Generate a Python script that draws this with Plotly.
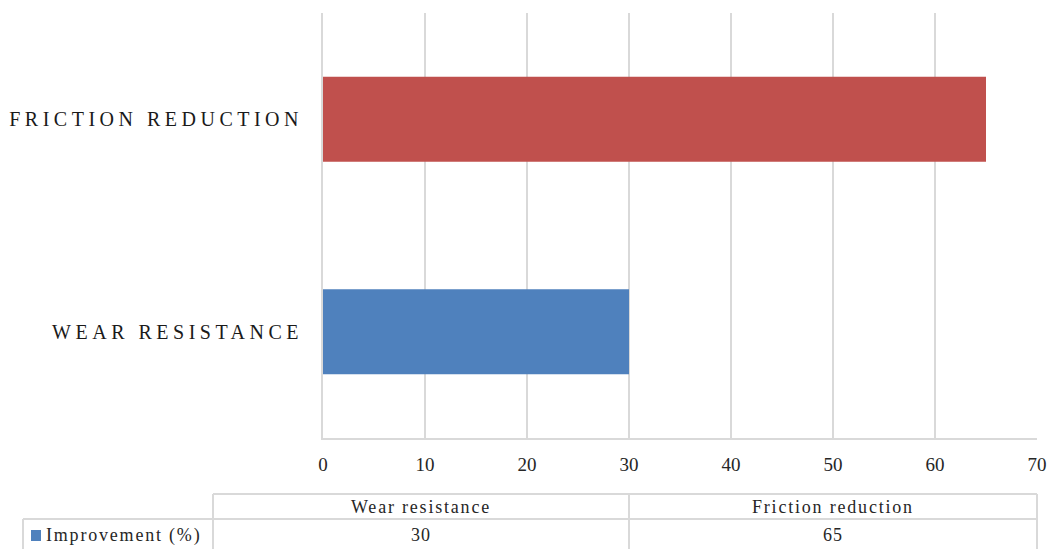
import plotly.graph_objects as go

categories = ["Wear resistance", "Friction reduction"]
values = [30, 65]
bar_colors = ["#4F81BD", "#C0504D"]
series_name = "Improvement (%)"
x_ticks = [0, 10, 20, 30, 40, 50, 60, 70]

W, H = 1049, 549
L, R, T, B = 323, 1037, 13, 438
GRID = "#D9D9D9"
FONT = "Liberation Serif"
TXT = "#262626"


def px(x):
    return (x - L) / (R - L)


def py(y):
    return (B - y) / (B - T)


def spaced(s, sp):
    return '<span style="letter-spacing:%spx">%s</span>' % (sp, s)


fig = go.Figure()
fig.add_trace(go.Bar(
    y=categories, x=values, orientation="h",
    marker=dict(color=bar_colors, line=dict(width=0)),
    width=0.4, name=series_name, showlegend=False,
))

ticktext = [spaced(c.upper(), 4.5) for c in categories]

fig.update_layout(
    width=W, height=H,
    margin=dict(l=L, r=W - R, t=T, b=H - B, pad=0, autoexpand=False),
    paper_bgcolor="white", plot_bgcolor="white",
    font=dict(family=FONT, color=TXT, size=18),
    xaxis=dict(range=[0, 70], tickvals=x_ticks, showgrid=True, gridcolor=GRID, gridwidth=2,
               zeroline=False, showline=True, linecolor=GRID, linewidth=2, automargin=False,
               ticklabeloverflow="allow",
               ticks="", ticklabelstandoff=8, tickfont=dict(size=19, color=TXT)),
    yaxis=dict(tickvals=categories, ticktext=ticktext, showgrid=False, zeroline=False,
               showline=True, linecolor=GRID, linewidth=2, range=[-0.5, 1.5], automargin=False,
               ticks="", ticklabelstandoff=14, tickfont=dict(size=20, color="#1a1a1a")),
    bargap=0.6,
)

# Data table below the chart
col_edges = [213, 629, 1037]
header_top, row_div, bottom = 494, 519, 570
line = dict(color=GRID, width=2)
shapes = []
shapes.append(dict(type="line", xref="paper", yref="paper", x0=px(213), x1=px(1037),
                   y0=py(header_top), y1=py(header_top), line=line))
shapes.append(dict(type="line", xref="paper", yref="paper", x0=px(23), x1=px(1037),
                   y0=py(row_div), y1=py(row_div), line=line))
for xe in col_edges:
    shapes.append(dict(type="line", xref="paper", yref="paper", x0=px(xe), x1=px(xe),
                       y0=py(header_top), y1=py(bottom), line=line))
shapes.append(dict(type="line", xref="paper", yref="paper", x0=px(23), x1=px(23),
                   y0=py(row_div), y1=py(bottom), line=line))
# legend key square
shapes.append(dict(type="rect", xref="paper", yref="paper", x0=px(31), x1=px(41),
                   y0=py(530), y1=py(541), line=dict(width=0), fillcolor=bar_colors[0]))
fig.update_layout(shapes=shapes)

ann = []
for i, c in enumerate(categories):
    cx = (col_edges[i] + col_edges[i + 1]) / 2
    ann.append(dict(xref="paper", yref="paper", x=px(cx), y=py(507), text=spaced(c, 1.8),
                    showarrow=False, font=dict(size=18, color=TXT),
                    xanchor="center", yanchor="middle"))
    ann.append(dict(xref="paper", yref="paper", x=px(cx), y=py(535), text=spaced(str(values[i]), 1),
                    showarrow=False, font=dict(size=18, color=TXT),
                    xanchor="center", yanchor="middle"))
ann.append(dict(xref="paper", yref="paper", x=px(44), y=py(535),
                text=spaced(series_name, 1.8),
                showarrow=False, font=dict(size=18, color=TXT),
                xanchor="left", yanchor="middle"))
fig.update_layout(annotations=ann)

fig.write_html("out.html", config={"displayModeBar": False},
               post_script="document.body.style.margin='0';document.body.style.overflow='hidden';")
